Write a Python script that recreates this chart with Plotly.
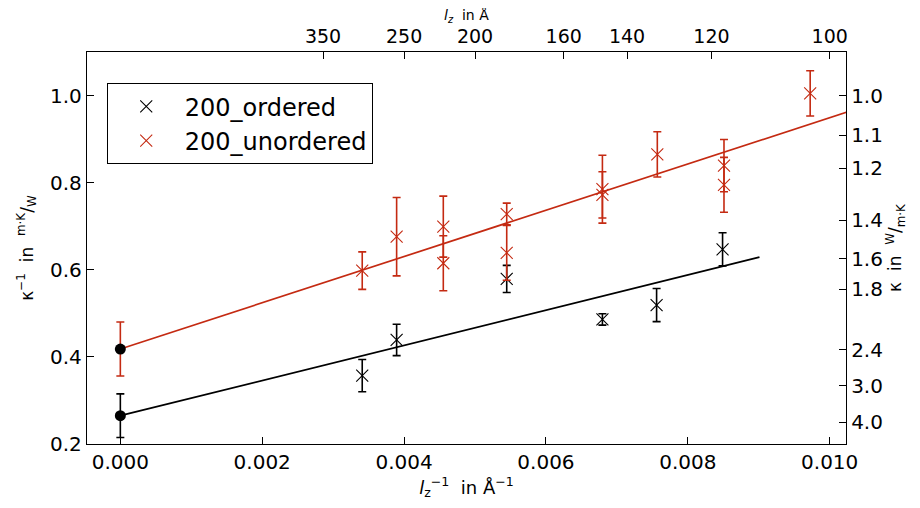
import plotly.graph_objects as go

# ---- data ----
x_ordered = [0.00341, 0.003895, 0.005447, 0.006796, 0.00756, 0.00849]
y_ordered = [0.357, 0.439, 0.579, 0.486, 0.519, 0.647]
e_ordered = [0.037, 0.036, 0.031, 0.013, 0.038, 0.038]

x_unordered = [0.00341, 0.003895, 0.004553, 0.004553, 0.005447, 0.005447,
               0.006796, 0.006796, 0.00757, 0.00851, 0.00851, 0.009725]
y_unordered = [0.598, 0.676, 0.699, 0.615, 0.728, 0.639,
               0.785, 0.772, 0.865, 0.839, 0.795, 1.005]
e_unordered = [0.043, 0.09, 0.07, 0.063, 0.025, 0.063,
               0.078, 0.053, 0.052, 0.06, 0.063, 0.052]

# extrapolated intercepts (l_z -> infinity)
icpt_x = [0.0]
icpt_ordered = [0.265]
icpt_ordered_err = [0.05]
icpt_unordered = [0.418]
icpt_unordered_err = [0.062]

# fit lines (end points)
fit_x_ordered = [0.0, 0.00901]
fit_y_ordered = [0.265, 0.629]
fit_x_unordered = [0.0, 0.0105]
fit_y_unordered = [0.418, 0.9756]

# secondary axes tick labels
lz_ticks = [350, 250, 200, 160, 140, 120, 100]
kappa_ticks = [1.0, 1.1, 1.2, 1.4, 1.6, 1.8, 2.4, 3.0, 4.0]

BLACK = "#000000"
RED = "#c42a12"
FONT = "DejaVu Sans"

fig = go.Figure()

# fit lines
fig.add_trace(go.Scatter(x=fit_x_ordered, y=fit_y_ordered, mode="lines",
                         line=dict(color=BLACK, width=1.7), showlegend=False, hoverinfo="skip"))
fig.add_trace(go.Scatter(x=fit_x_unordered, y=fit_y_unordered, mode="lines",
                         line=dict(color=RED, width=1.7), showlegend=False, hoverinfo="skip"))

# data with error bars
fig.add_trace(go.Scatter(
    x=x_ordered, y=y_ordered, mode="markers", name="200_ordered",
    marker=dict(symbol="x-thin", size=12, line=dict(color=BLACK, width=1.1), color=BLACK),
    error_y=dict(type="data", array=e_ordered, visible=True, color=BLACK, thickness=1.6, width=4)))
fig.add_trace(go.Scatter(
    x=x_unordered, y=y_unordered, mode="markers", name="200_unordered",
    marker=dict(symbol="x-thin", size=12, line=dict(color=RED, width=1.1), color=RED),
    error_y=dict(type="data", array=e_unordered, visible=True, color=RED, thickness=1.6, width=4)))

# intercepts
fig.add_trace(go.Scatter(
    x=icpt_x, y=icpt_unordered, mode="markers", showlegend=False,
    marker=dict(symbol="circle", size=11, color=BLACK),
    error_y=dict(type="data", array=icpt_unordered_err, visible=True, color=RED, thickness=1.6, width=4)))
fig.add_trace(go.Scatter(
    x=icpt_x, y=icpt_ordered, mode="markers", showlegend=False,
    marker=dict(symbol="circle", size=11, color=BLACK),
    error_y=dict(type="data", array=icpt_ordered_err, visible=True, color=BLACK, thickness=1.6, width=4)))

# invisible trace to activate the secondary axes
fig.add_trace(go.Scatter(x=[0.005], y=[0.5], xaxis="x2", yaxis="y2", mode="markers",
                         marker=dict(opacity=0), showlegend=False, hoverinfo="skip"))

xr = [-0.00047, 0.01023]
yr = [0.2, 1.1]

axis_common = dict(showgrid=False, zeroline=False, showline=True, linecolor=BLACK, linewidth=1.3,
                   ticks="inside", ticklen=7, tickwidth=1, tickcolor=BLACK, automargin=False)
tf20 = dict(family=FONT, size=20, color=BLACK)

fig.update_layout(
    width=912, height=500,
    margin=dict(l=79, r=74, t=44, b=64),
    paper_bgcolor="white", plot_bgcolor="white",
    font=dict(family=FONT, color=BLACK),
    xaxis=dict(range=xr, tickvals=[0, 0.002, 0.004, 0.006, 0.008, 0.010],
               ticktext=["0.000", "0.002", "0.004", "0.006", "0.008", "0.010"],
               mirror=True, tickfont=tf20,
               title=dict(text="<i>l</i><sub>z</sub><sup>−1</sup>  in Å<sup>−1</sup>",
                          font=dict(family=FONT, size=18), standoff=2),
               **axis_common),
    yaxis=dict(range=yr, tickvals=[0.2, 0.4, 0.6, 0.8, 1.0],
               ticktext=["0.2", "0.4", "0.6", "0.8", "1.0"], mirror=True, tickfont=tf20,
               title=dict(text="κ<sup>−1</sup>  in  <sup>m·K</sup>/<sub>W</sub>",
                          font=dict(family=FONT, size=17), standoff=12),
               **axis_common),
    xaxis2=dict(range=xr, overlaying="x", side="top", anchor="y",
                tickvals=[1.0 / v for v in lz_ticks], ticktext=[str(v) for v in lz_ticks],
                tickfont=dict(family=FONT, size=19, color=BLACK),
                **axis_common),
    yaxis2=dict(range=yr, overlaying="y", side="right", anchor="x",
                tickvals=[1.0 / v for v in kappa_ticks], ticktext=[f"{v:.1f}" for v in kappa_ticks],
                tickfont=tf20,
                title=dict(text="κ  in  <sup>W</sup>/<sub>m·K</sub>", font=dict(family=FONT, size=17), standoff=4),
                **axis_common),
    legend=dict(x=0.026, y=0.92, xanchor="left", yanchor="top",
                bgcolor="white", bordercolor=BLACK, borderwidth=1, itemwidth=67,
                font=dict(family=FONT, size=24, color=BLACK), tracegroupgap=2),
    showlegend=True,
    annotations=[dict(text="<i>l<sub>z</sub></i>  in Å", xref="paper", yref="paper",
                      x=0.5, y=1, yanchor="top", yshift=46, showarrow=False, borderpad=0,
                      font=dict(family=FONT, size=14, color=BLACK))],
)

fig.write_html("out.html")
